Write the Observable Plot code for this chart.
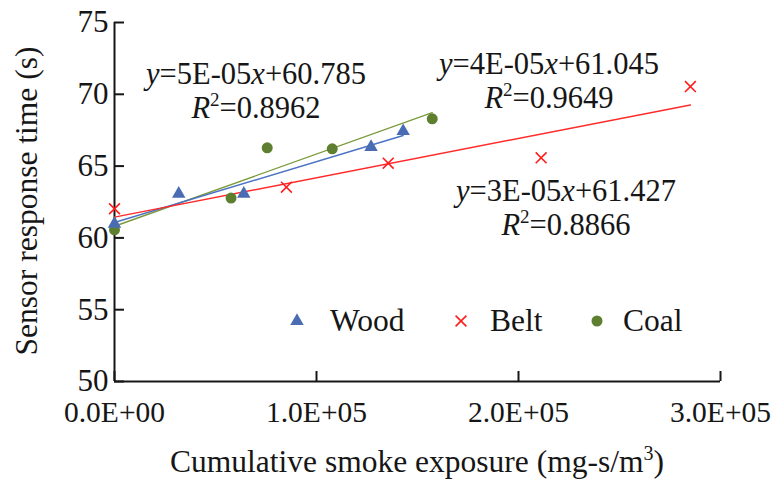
<!DOCTYPE html>
<html><head><meta charset="utf-8">
<script src="https://cdn.jsdelivr.net/npm/d3@7"></script>
<script src="https://cdn.jsdelivr.net/npm/@observablehq/plot@0.6"></script>
<style>
body{margin:0;background:#fff}
#chart{position:relative;width:776px;height:487px}
#chart g[aria-label="y-axis tick label"], #chart g[aria-label="y-axis tick label"] text{font-family:"Liberation Serif",serif;font-size:31px}
#chart g[aria-label="x-axis tick label"], #chart g[aria-label="x-axis tick label"] text{font-family:"Liberation Serif",serif;font-size:29.5px}
</style>
</head><body><div id="chart"></div>
<script>
// ---- data ----
const seriesNames = ["Wood", "Belt", "Coal"];
const woodX = [0, 31800, 64000, 127000, 142900];
const woodY = [60.98, 63.07, 63.07, 66.32, 67.43];
const beltX = [0, 85100, 135500, 211200, 285100];
const beltY = [62.03, 63.53, 65.20, 65.58, 70.54];
const coalX = [0, 57700, 75600, 107800, 157300];
const coalY = [60.56, 62.77, 66.27, 66.20, 68.29];
const yTicks = [50, 55, 60, 65, 70, 75];
const xTicks = [0, 100000, 200000, 300000];
const xTickLabels = ["0.0E+00", "1.0E+05", "2.0E+05", "3.0E+05"];
const eqSeries = ["Coal", "Wood", "Belt"];
const eqSlopes = ["5E-05", "4E-05", "3E-05"];
const eqIntercepts = ["60.785", "61.045", "61.427"];
const eqR2 = ["0.8962", "0.9649", "0.8866"];
const xTitle = "Cumulative smoke exposure (mg-s/m";
const yTitle = "Sensor response time (s)";

// ---- layout / style ----
const W = 776, H = 487, mL = 114, mR = 56, mT = 22, mB = 106;
const pw = W - mL - mR, ph = H - mT - mB;
const font = "Liberation Serif, Times New Roman, serif";
const ink = "#161616";
const fs = 31.5, eqFs = 30.5, yTickFs = 31, xTickFs = 29.5;
const colors = {Wood: "#4a6cb3", Belt: "#ff1c1c", Coal: "#5f7f30"};
const lineColors = {Wood: "#4a72c4", Belt: "#ff2a2a", Coal: "#7c9a3c"};

const toRows = (xs, ys) => xs.map((x, i) => ({x, y: ys[i]}));
const wood = toRows(woodX, woodY);
const belt = toRows(beltX, beltY);
const coal = toRows(coalX, coalY);

const plot = Plot.plot({
  width: W, height: H,
  marginLeft: mL, marginRight: mR, marginTop: mT, marginBottom: mB,
  style: {fontFamily: font, fontSize: yTickFs + "px", color: ink, background: "#fff", overflow: "visible"},
  x: {domain: [0, 300000]},
  y: {domain: [50, 75]},
  marks: [
    Plot.ruleX([0], {stroke: ink, strokeWidth: 2}),
    Plot.ruleY([50], {stroke: ink, strokeWidth: 2}),
    Plot.tickY(yTicks, {y: d => d, insetRight: pw - 10, stroke: ink, strokeWidth: 2}),
    Plot.tickX(xTicks, {x: d => d, insetTop: ph - 10, stroke: ink, strokeWidth: 2}),
    Plot.axisY(yTicks, {tickSize: 0, tickPadding: 6, tickFormat: d => String(d), label: null, fill: ink,
      fontFamily: font, fontSize: yTickFs}),
    Plot.axisX(xTicks, {tickSize: 0, tickPadding: 20, tickFormat: d => xTickLabels[xTicks.indexOf(d)], label: null, fill: ink,
      fontFamily: font, fontSize: xTickFs}),
    Plot.linearRegressionY(coal, {x: "x", y: "y", stroke: lineColors.Coal, strokeWidth: 1.4, ci: 0}),
    Plot.linearRegressionY(wood, {x: "x", y: "y", stroke: lineColors.Wood, strokeWidth: 1.4, ci: 0}),
    Plot.linearRegressionY(belt, {x: "x", y: "y", stroke: lineColors.Belt, strokeWidth: 1.4, ci: 0}),
    Plot.dot(coal, {x: "x", y: "y", r: 5.5, symbol: "circle", fill: colors.Coal, stroke: "none"}),
    Plot.dot(wood, {x: "x", y: "y", r: 5, symbol: "triangle", fill: colors.Wood, stroke: "none"}),
    Plot.dot(belt, {x: "x", y: "y", r: 5, symbol: "times", stroke: colors.Belt, strokeWidth: 1.6})
  ]
});
document.getElementById("chart").appendChild(plot);

// ---- text overlays (equations, titles, legend) ----
const svg = d3.select(plot);
const g = svg.append("g").attr("font-family", font).attr("fill", ink).attr("text-anchor", "start");

// each equation: two lines
const eqPos = {Coal: [256, 84, 34], Wood: [549, 74, 34], Belt: [566, 201, 34]};
eqSeries.forEach((s, i) => {
  const [cx, b1, lh] = eqPos[s];
  const t1 = g.append("text").attr("x", cx).attr("y", b1).attr("text-anchor", "middle").attr("font-size", eqFs);
  t1.append("tspan").attr("font-style", "italic").text("y");
  t1.append("tspan").text("=" + eqSlopes[i]);
  t1.append("tspan").attr("font-style", "italic").text("x");
  t1.append("tspan").text("+" + eqIntercepts[i]);
  const t2 = g.append("text").attr("x", cx).attr("y", b1 + lh).attr("text-anchor", "middle").attr("font-size", eqFs);
  t2.append("tspan").attr("font-style", "italic").text("R");
  t2.append("tspan").attr("font-size", 19).attr("dy", -12).text("2");
  t2.append("tspan").attr("dy", 12).text("=" + eqR2[i]);
});

const xt = g.append("text").attr("x", 417).attr("y", 472).attr("text-anchor", "middle").attr("font-size", fs);
xt.append("tspan").text(xTitle);
xt.append("tspan").attr("font-size", 20).attr("dy", -12).text("3");
xt.append("tspan").attr("dy", 12).text(")");

g.append("text").attr("transform", "translate(37,201) rotate(-90)").attr("text-anchor", "middle")
  .attr("font-size", fs).text(yTitle);

// legend
const legSym = {Wood: d3.symbolTriangle, Belt: d3.symbolTimes, Coal: d3.symbolCircle};
const legR = {Wood: 5, Belt: 5, Coal: 5.5};
const legX = {Wood: [297, 330], Belt: [461, 490], Coal: [597, 623]};
seriesNames.forEach(s => {
  const [sx, tx] = legX[s];
  const p = g.append("path")
    .attr("transform", `translate(${sx},321)`)
    .attr("d", d3.symbol(legSym[s], Math.PI * legR[s] * legR[s])());
  if (s === "Belt") p.attr("fill", "none").attr("stroke", colors.Belt).attr("stroke-width", 1.6);
  else p.attr("fill", colors[s]);
  g.append("text").attr("x", tx).attr("y", 331).attr("text-anchor", "start").attr("font-size", fs).text(s);
});
</script>
</body></html>
